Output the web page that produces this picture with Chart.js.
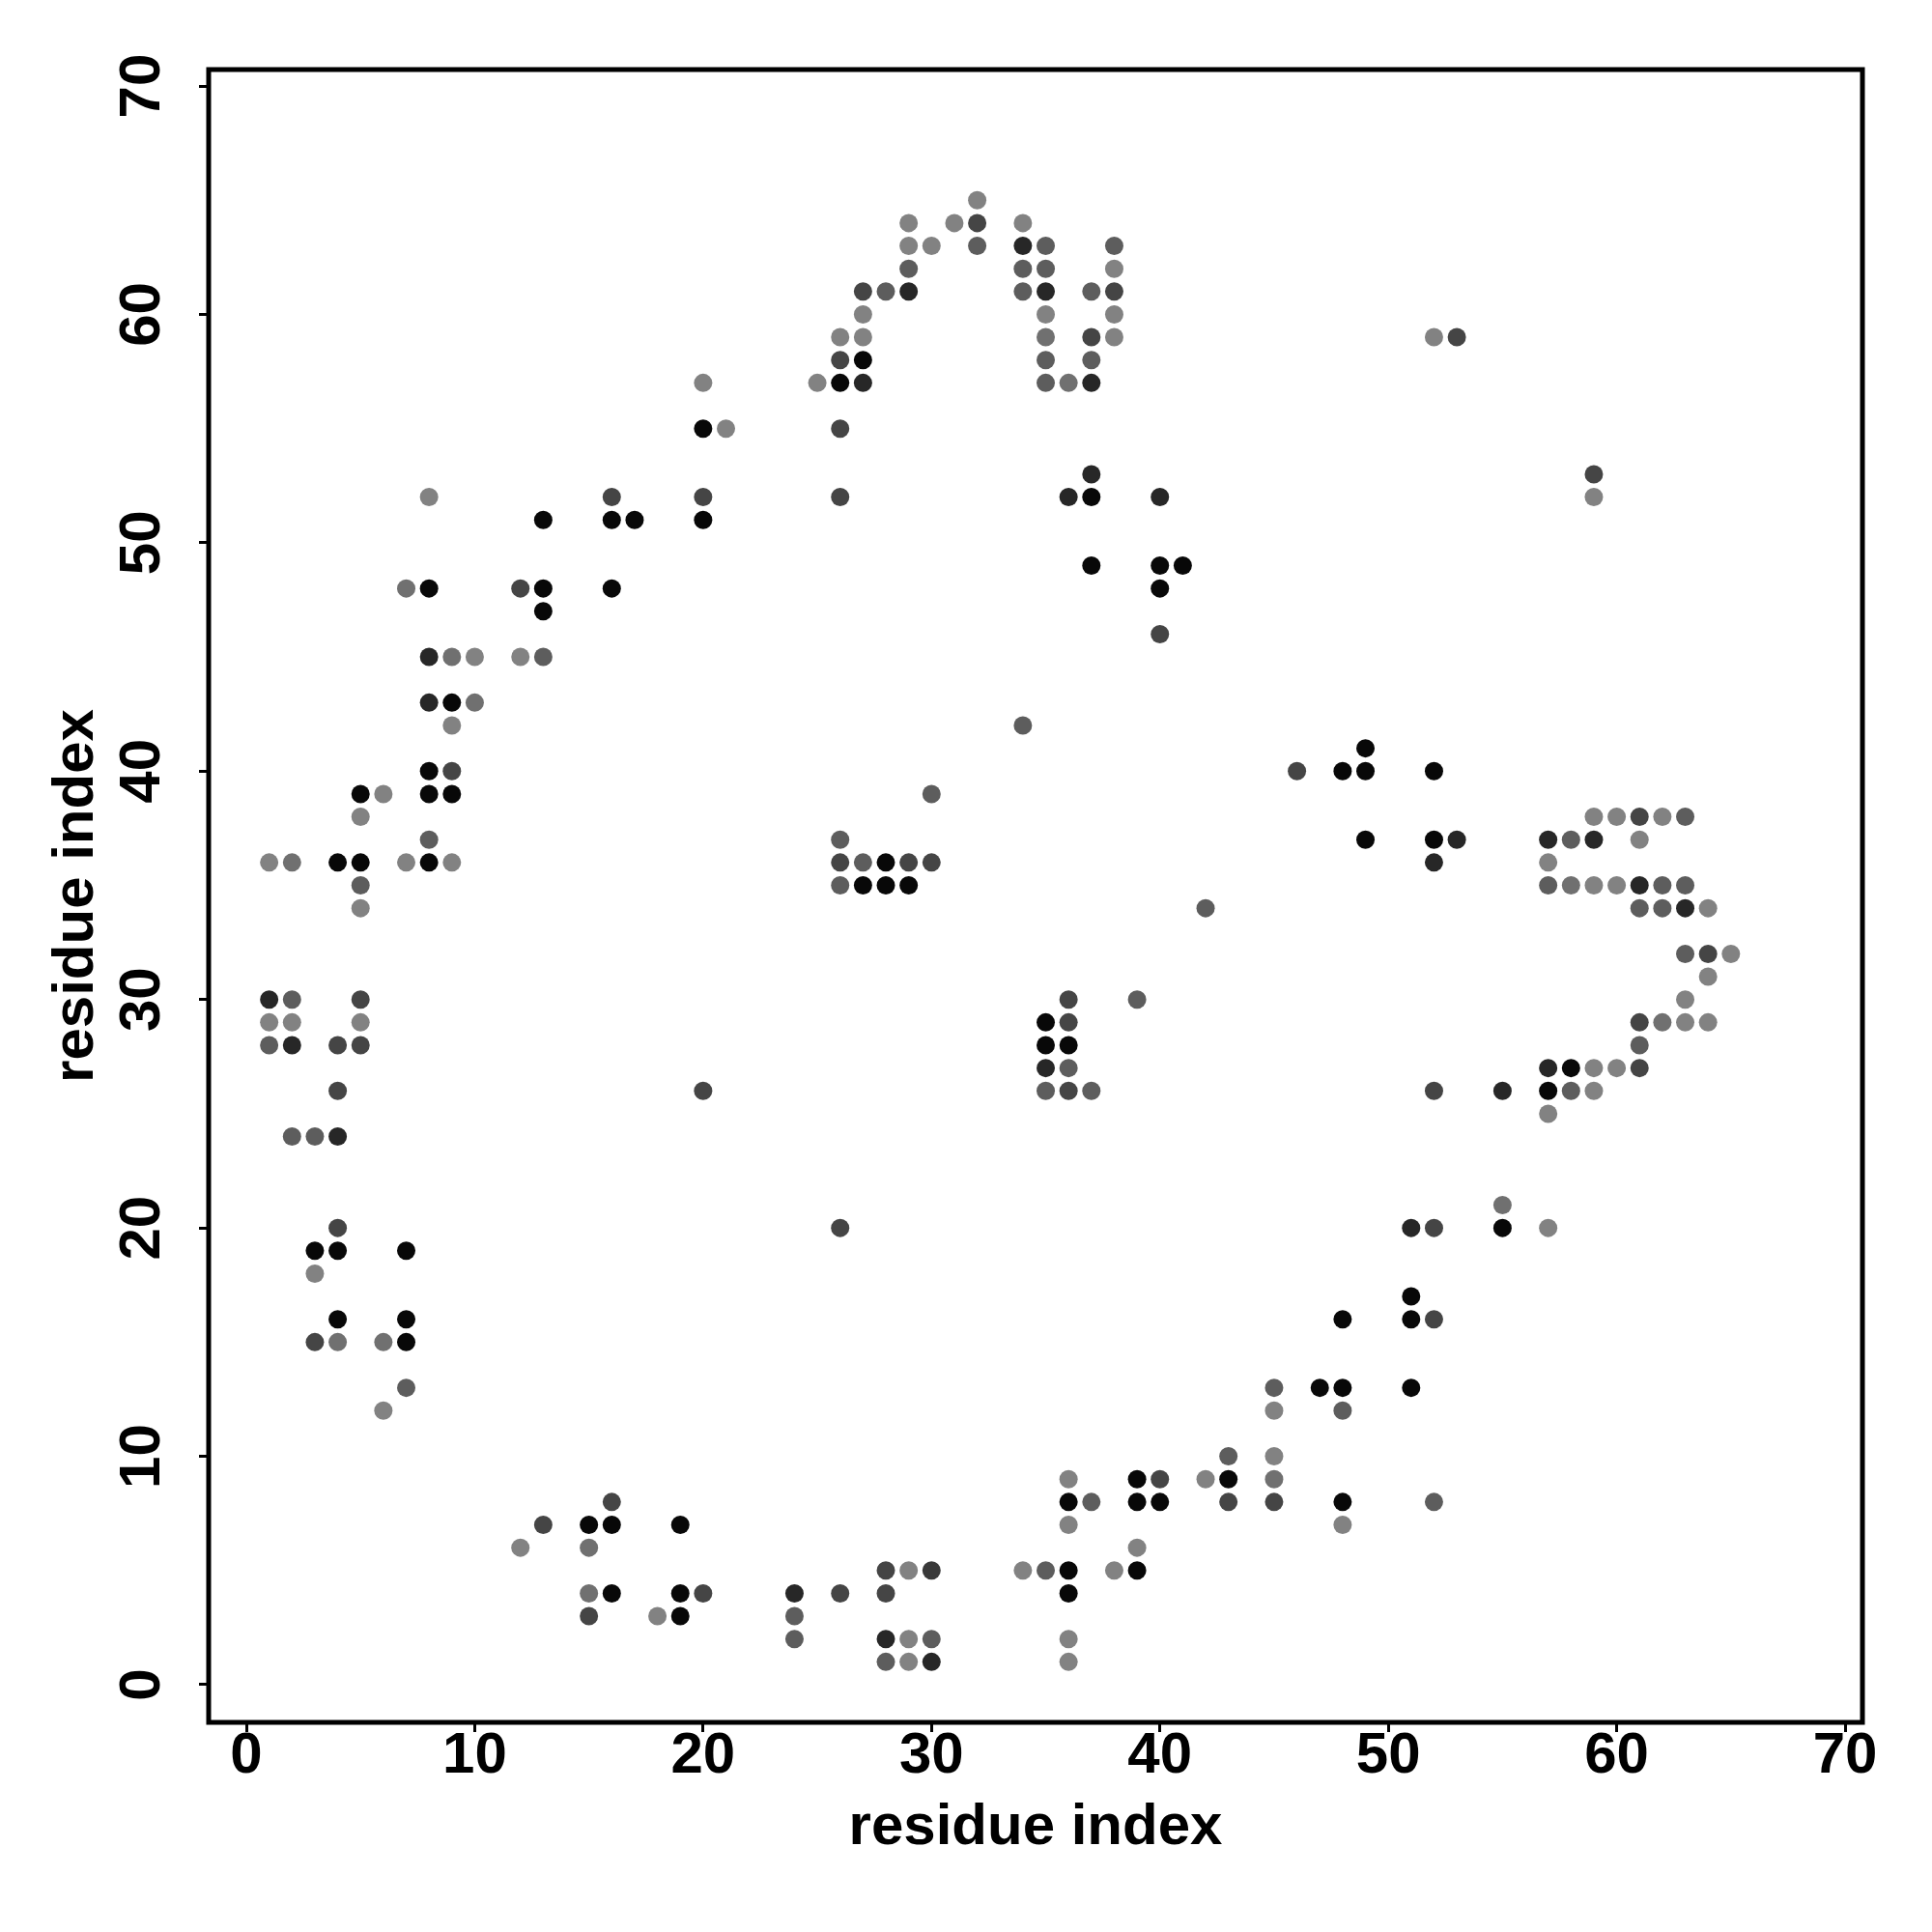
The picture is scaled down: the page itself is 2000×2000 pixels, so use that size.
<!DOCTYPE html>
<html lang="en">
<head>
    <meta charset="UTF-8">
    <title>Residue contact map</title>
    <script src="https://cdn.jsdelivr.net/npm/chart.js"></script>
    <style>
        html, body { margin: 0; padding: 0; background: #fff; }
        canvas { display: block; }
    </style>
</head>
<body>
    <canvas id="contactChart" width="2000" height="2000"></canvas>

    <script>
        // residue i (x axis) and, for each, the partner residues j with contact strength (1 = black)
        const columns = [1, 2, 3, 4, 5, 6, 7, 8, 9, 10, 12, 13, 15, 16, 17, 18, 19, 20, 21, 24, 25, 26, 27, 28,
                         29, 30, 31, 32, 34, 35, 36, 37, 38, 39, 40, 41, 42, 43, 45, 46, 47, 48, 49, 51, 52, 53,
                         55, 57, 58, 59, 60, 61, 62, 63, 64, 65];
        const partners = [
            [36, 30, 29, 28], [36, 30, 29, 28, 24], [24, 19, 18, 15], [36, 28, 26, 24, 20, 19, 16, 15],
            [39, 38, 36, 35, 34, 30, 29, 28], [39, 15, 12], [48, 36, 19, 16, 15, 13], [52, 48, 45, 43, 40, 39, 37, 36],
            [45, 43, 42, 40, 39, 36], [45, 43], [48, 45, 6], [51, 48, 47, 45, 7],
            [7, 6, 4, 3], [52, 51, 48, 8, 7, 4], [51], [3],
            [7, 4, 3], [57, 55, 52, 51, 26, 4], [55], [4, 3, 2],
            [57], [59, 58, 57, 55, 52, 37, 36, 35, 20, 4], [61, 60, 59, 58, 57, 36, 35], [61, 36, 35, 5, 4, 2, 1],
            [64, 63, 62, 61, 36, 35, 5, 2, 1], [63, 39, 36, 5, 2, 1], [64], [65, 64, 63],
            [64, 63, 62, 61, 42, 5], [63, 62, 61, 60, 59, 58, 57, 29, 28, 27, 26, 5],
            [57, 52, 30, 29, 28, 27, 26, 9, 8, 7, 5, 4, 2, 1], [61, 59, 58, 57, 53, 52, 49, 26, 8],
            [63, 62, 61, 60, 59, 5], [30, 9, 8, 6, 5], [52, 49, 48, 46, 9, 8], [49],
            [34, 9], [10, 9, 8], [13, 12, 10, 9, 8], [40],
            [13], [40, 16, 13, 12, 8, 7], [41, 40, 37], [20, 17, 16, 13],
            [59, 40, 37, 36, 26, 20, 16, 8], [59, 37], [26, 21, 20], [37, 36, 35, 27, 26, 25, 20],
            [37, 35, 27, 26], [53, 52, 38, 37, 35, 27, 26], [38, 35, 27], [38, 37, 35, 34, 29, 28, 27],
            [38, 35, 34, 29], [38, 35, 34, 32, 30, 29], [34, 32, 31, 29], [32]
        ];
        const strengths = [
            [0, .75, 0, .3], [.15, .3, 0, .75, .3], [.3, 1, 0, .5], [1, .5, .5, .75, .5, 1, 1, .15],
            [1, 0, 1, .3, 0, .5, 0, .5], [0, .15, 0], [.15, 0, 1, 1, 1, .3], [0, 1, .75, .75, 1, 1, .3, 1],
            [.15, 1, 0, .5, 1, 0], [0, .15], [.5, 0, 0], [1, 1, 1, .3, .5],
            [1, .15, .15, .5], [.5, 1, 1, .5, 1, 1], [1], [0],
            [1, 1, 1], [0, 1, .5, 1, .5, .5], [0], [.75, .3, .3],
            [0], [0, .5, 1, .5, .5, .3, .5, .3, .5, .5], [.5, 0, 0, 1, .75, .3, 1], [.3, 1, 1, .5, .5, .75, .3],
            [0, 0, .3, .75, .5, 1, 0, 0, 0], [0, .3, .5, .6, .3, .75], [0], [0, .5, .3],
            [0, .75, .3, .3, .3, 0], [.3, .3, .75, 0, .15, .3, .3, 1, 1, .75, .3, .3],
            [.15, .75, .5, .5, 1, .3, .5, 0, 1, 0, 1, 1, 0, 0], [.3, .5, .3, .75, .75, 1, 1, .3, .3],
            [.3, 0, .5, 0, 0, 0], [.3, 1, 1, 0, 1], [.75, 1, 1, .5, .5, 1], [1],
            [.3, 0], [.3, 1, .5], [.3, 0, 0, .15, .5], [.5],
            [1], [1, 1, 1, .3, 1, 0], [1, 1, 1], [.75, 1, 1, 1],
            [0, 1, 1, .75, .5, .5, .5, .3], [.5, .75], [.75, .15, 1], [.75, 0, .3, .75, 1, 0, 0],
            [.3, .15, 1, .3], [.5, 0, 0, .75, 0, 0, 0], [0, 0, 0], [.5, 0, .75, .3, .5, .3, .5],
            [0, .3, .3, .15], [.3, .3, .75, .3, 0, 0], [0, .5, 0, 0], [0]
        ];
        const tickValues = [0, 10, 20, 30, 40, 50, 60, 70];

        const points = [];
        const colors = [];
        columns.forEach((i, c) => {
            partners[c].forEach((j, k) => {
                points.push({ x: i, y: j });
                const g = Math.round(130 - 122 * strengths[c][k]);
                colors.push('rgb(' + g + ',' + g + ',' + g + ')');
            });
        });

        const axisFont = { family: "'Liberation Sans', Arial, sans-serif", size: 60, weight: 'bold', lineHeight: 1 };
        const titleFont = { family: "'Liberation Sans', Arial, sans-serif", size: 60, weight: 'bold', lineHeight: 1.2 };

        // box round the plot area
        const frame = {
            id: 'frame',
            afterDraw(chart) {
                const { ctx, chartArea: a } = chart;
                ctx.save();
                ctx.strokeStyle = '#000';
                ctx.lineWidth = 5;
                ctx.strokeRect(a.left, a.top, a.right - a.left, a.bottom - a.top);
                ctx.restore();
            }
        };

        const ctx = document.getElementById('contactChart').getContext('2d');
        new Chart(ctx, {
            type: 'scatter',
            data: {
                datasets: [{
                    data: points,
                    pointBackgroundColor: colors,
                    pointBorderWidth: 0,
                    pointRadius: 9.5,
                    pointHoverRadius: 9.5
                }]
            },
            options: {
                responsive: false,
                animation: false,
                events: [],
                layout: { padding: { top: 72, right: 72, left: 0, bottom: 0 } },
                plugins: { legend: { display: false }, tooltip: { enabled: false } },
                scales: {
                    x: {
                        type: 'linear',
                        min: -1.65,
                        max: 70.76,
                        afterBuildTicks: s => { s.ticks = tickValues.map(v => ({ value: v })); },
                        afterFit: s => { s.height = 217; },
                        border: { display: false },
                        grid: { drawOnChartArea: false, drawTicks: true, tickLength: 10, lineWidth: 3, color: '#000' },
                        ticks: { color: '#000', font: axisFont, padding: -5, maxRotation: 0, minRotation: 0, autoSkip: false },
                        title: { display: true, text: 'residue index', color: '#000', font: titleFont, padding: { top: 0, bottom: 72 } }
                    },
                    y: {
                        type: 'linear',
                        min: -1.65,
                        max: 70.72,
                        afterBuildTicks: s => { s.ticks = tickValues.map(v => ({ value: v })); },
                        afterFit: s => { s.width = 216; },
                        border: { display: false },
                        grid: { drawOnChartArea: false, drawTicks: true, tickLength: 10, lineWidth: 3, color: '#000' },
                        ticks: { color: '#000', font: axisFont, padding: 24, minRotation: 90, maxRotation: 90, crossAlign: 'center', autoSkip: false },
                        title: { display: true, text: 'residue index', color: '#000', font: titleFont, padding: { top: 43, bottom: 0 } }
                    }
                }
            },
            plugins: [frame]
        });
    </script>
</body>
</html>
